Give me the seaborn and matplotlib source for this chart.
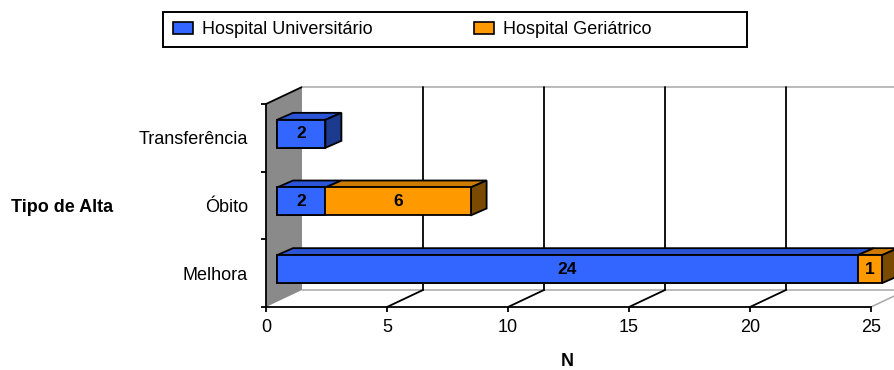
import matplotlib
matplotlib.use("Agg")
import matplotlib.pyplot as plt
from matplotlib.patches import Polygon, Rectangle, Patch
import pandas as pd
import seaborn as sns

# ---- data ----
categories = ["Transferência", "Óbito", "Melhora"]
universitario = [2, 2, 24]
geriatrico = [0, 6, 1]
series_names = ["Hospital Universitário", "Hospital Geriátrico"]
x_ticks = [0, 5, 10, 15, 20, 25]

BLUE, BLUE_TOP, BLUE_SIDE = "#3366FF", "#2B55D6", "#1C3A8E"
ORANGE, ORANGE_TOP, ORANGE_SIDE = "#FF9900", "#CC7A00", "#7A4A00"
WALL = "#8A8A8A"
FAINT = "#A8A8A8"

sns.set_theme(style="white")
plt.rcParams["font.family"] = ["Liberation Sans", "DejaVu Sans"]
plt.rcParams.update({"text.color": "black", "axes.labelcolor": "black",
                     "xtick.color": "black", "ytick.color": "black"})

W, H = 894, 370
fig = plt.figure(figsize=(W / 100, H / 100), dpi=100)
fig.patch.set_facecolor("white")

# front plane of the 3-D box, in pixels
X0, X1 = 266, 871
YT, YB = 104, 307
ax = fig.add_axes([X0 / W, 1 - YB / H, (X1 - X0) / W, (YB - YT) / H])
ax.set_facecolor("none")

XMAX = x_ticks[-1]
SX = (X1 - X0) / XMAX             # px per unit of N
SY = (YB - YT) / len(categories)  # px per category band


def off(dx, dy):
    """pixel offset -> data offset (y axis is inverted)"""
    return dx / SX, dy / SY


df = pd.DataFrame({"Tipo de Alta": categories,
                   "univ": universitario,
                   "geri": geriatrico})
df["total"] = df["univ"] + df["geri"]

BAR_H = 28 / SY
LW = 1.3

# front faces: total (orange) underneath, university (blue) on top
sns.barplot(data=df, y="Tipo de Alta", x="total", order=categories,
            color=ORANGE, saturation=1, width=BAR_H, edgecolor="black",
            linewidth=LW, zorder=3, ax=ax)
sns.barplot(data=df, y="Tipo de Alta", x="univ", order=categories,
            color=BLUE, saturation=1, width=BAR_H, edgecolor="black",
            linewidth=LW, zorder=4, ax=ax)

# bars sit in the middle of the box depth
bx, by = off(11, -4)
for p in ax.patches:
    p.set_x(p.get_x() + bx)
    p.set_y(p.get_y() + by)
    p.set_clip_on(False)

ax.set_xlim(0, XMAX)
ax.set_ylim(len(categories) - 0.5, -0.5)

# ---- walls, floor and gridlines ----
kx, ky = off(36, -17)
top, bot = -0.5, len(categories) - 0.5

ax.add_patch(Polygon([(0, top), (kx, top + ky), (kx, bot + ky), (0, bot)],
                     closed=True, facecolor=WALL, edgecolor="none",
                     zorder=1, clip_on=False))
ax.plot([0, kx], [top, top + ky], color="black", lw=LW, zorder=2,
        clip_on=False, solid_capstyle="butt")
ax.plot([kx, XMAX + kx], [top + ky, top + ky], color=FAINT, lw=1.1,
        zorder=1, clip_on=False)
ax.plot([kx, XMAX + kx], [bot + ky, bot + ky], color=FAINT, lw=1.1,
        zorder=1, clip_on=False)
for v in x_ticks[1:-1]:
    ax.plot([v + kx, v + kx], [top + ky, bot + ky], color="black", lw=LW,
            zorder=1, clip_on=False)
    ax.plot([v, v + kx], [bot, bot + ky], color="black", lw=LW,
            zorder=1, clip_on=False)
ax.plot([XMAX, XMAX + kx], [bot, bot + ky], color=FAINT, lw=1.1,
        zorder=1, clip_on=False)

# ---- 3-D top and side faces of the bars, plus value labels ----
dx, dy = off(16, -7)
for i, (u, g) in enumerate(zip(universitario, geriatrico)):
    y_top = i + by - BAR_H / 2
    y_bot = i + by + BAR_H / 2
    segs = [(0, u, BLUE_TOP, BLUE_SIDE), (u, u + g, ORANGE_TOP, ORANGE_SIDE)]
    segs = [s for s in segs if s[1] > s[0]]
    for xs, xe, ctop, _ in segs:
        ax.add_patch(Polygon([(xs + bx, y_top), (xe + bx, y_top),
                              (xe + bx + dx, y_top + dy),
                              (xs + bx + dx, y_top + dy)],
                             closed=True, facecolor=ctop, edgecolor="black",
                             lw=LW, zorder=2.5, clip_on=False))
        ax.text((xs + xe) / 2 + bx, i + by, f"{xe - xs:g}",
                ha="center", va="center", fontsize=12.5, fontweight="bold",
                color="black", zorder=6)
    xs, xe, _, cside = segs[-1]
    ax.add_patch(Polygon([(xe + bx, y_top), (xe + bx + dx, y_top + dy),
                          (xe + bx + dx, y_bot + dy), (xe + bx, y_bot)],
                         closed=True, facecolor=cside, edgecolor="black",
                         lw=LW, zorder=2.5, clip_on=False))

# ---- axes styling ----
for s in ("top", "right"):
    ax.spines[s].set_visible(False)
for s in ("left", "bottom"):
    ax.spines[s].set_color("black")
    ax.spines[s].set_linewidth(LW)
    ax.spines[s].set_zorder(2)

ax.set_xticks(x_ticks)
ax.set_xticklabels([str(t) for t in x_ticks])
ax.tick_params(axis="x", bottom=True, direction="out", length=3.6, width=LW,
               color="black", labelcolor="black", labelsize=13, pad=5)
ax.set_yticks(range(len(categories)))
ax.set_yticklabels(categories)
ax.set_yticks([k - 0.5 for k in range(len(categories) + 1)], minor=True)
ax.tick_params(axis="y", which="major", left=False, labelsize=13, pad=7,
               labelcolor="black")
ax.tick_params(axis="y", which="minor", left=True, direction="out",
               length=3.6, width=LW, color="black")
ax.grid(False)

ax.set_xlabel("N", fontsize=13, fontweight="bold", va="center",
              color="black")
ax.xaxis.set_label_coords((567 - X0) / (X1 - X0), (YB - 362) / (YB - YT))
ax.set_ylabel("Tipo de Alta", fontsize=13, fontweight="bold", rotation=0,
              ha="center", va="center", color="black")
ax.yaxis.set_label_coords((62 - X0) / (X1 - X0), (YB - 207) / (YB - YT))

# ---- legend ----
fig.add_artist(Rectangle((163 / W, 1 - 47 / H), 584 / W, 35 / H,
                         transform=fig.transFigure, facecolor="white",
                         edgecolor="black", lw=1.4))
handles = [Patch(facecolor=BLUE, edgecolor="black", lw=1.2),
           Patch(facecolor=ORANGE, edgecolor="black", lw=1.2)]
leg = fig.legend(handles, series_names, loc="center left",
                 bbox_to_anchor=(173 / W, 1 - 29.5 / H), ncol=2,
                 frameon=False, fontsize=13, handlelength=20 / 18,
                 handleheight=12 / 18, handletextpad=9 / 18,
                 columnspacing=5.6, borderpad=0, borderaxespad=0)
for t in leg.get_texts():
    t.set_color("black")

fig.savefig("out.png", dpi=100, facecolor="white")
